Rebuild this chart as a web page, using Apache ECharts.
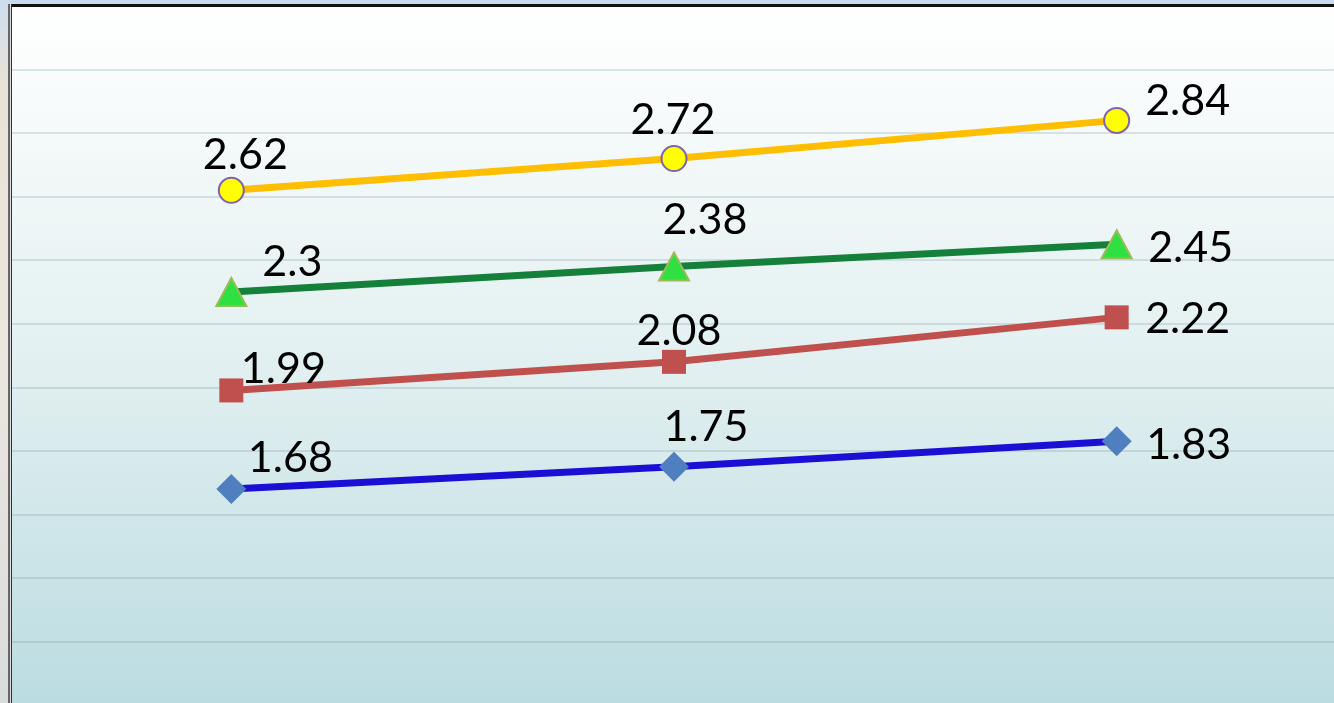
<!DOCTYPE html>
<html>
<head>
<meta charset="utf-8">
<script src="https://cdn.jsdelivr.net/npm/echarts@6/dist/echarts.min.js"></script>
<style>
  html, body { margin: 0; padding: 0; background: #fff; }
  #chart { width: 1334px; height: 703px; }
</style>
</head>
<body>
<div id="chart"></div>
<script>
const categories = ['A', 'B', 'C'];
const seriesBlue = [1.68, 1.75, 1.83];
const seriesRed = [1.99, 2.08, 2.22];
const seriesGreen = [2.3, 2.38, 2.45];
const seriesYellow = [2.62, 2.72, 2.84];

// label offsets per point (dx, dy from the marker centre)
const offBlue = [[59, -31], [32, -40], [72, 4]];
const offRed = [[52, -21], [5, -31], [71, 2]];
const offGreen = [[61, -30], [31, -46], [74, 4]];
const offYellow = [[14, -35], [-1, -38], [71, -19]];

const chart = echarts.init(document.getElementById('chart'));

function withLabels(values, offsets){
  return values.map((v, i) => ({
    value: v,
    label: { offset: offsets[i] }
  }));
}

function lineSeries(name, values, offsets, lineColor, symbol, size, fill, border){
  return {
    name,
    type: 'line',
    data: withLabels(values, offsets),
    symbol,
    symbolSize: size,
    showAllSymbol: true,
    lineStyle: { color: lineColor, width: 7 },
    itemStyle: { color: fill, borderColor: border, borderWidth: border ? 2 : 0 },
    label: {
      show: true,
      position: 'inside',
      align: 'center',
      verticalAlign: 'middle',
      color: '#000',
      fontFamily: 'Lato, "Open Sans", sans-serif',
      fontSize: 43,
      formatter: p => String(p.value)
    },
    emphasis: { disabled: true },
    z: 3
  };
}

chart.setOption({
  animation: false,
  backgroundColor: '#ffffff',
  graphic: [
    { type: 'rect', left: 0, top: 0, shape: { width: 1334, height: 5 }, style: { fill: '#c9d9f2' }, z: 10 },
    { type: 'rect', left: 0, top: 0, shape: { width: 9, height: 703 },
      style: { fill: new echarts.graphic.LinearGradient(0, 0, 0, 1, [
        { offset: 0, color: '#cdddf0' }, { offset: 0.12, color: '#e9e2d6' },
        { offset: 0.5, color: '#ebe6df' }, { offset: 1, color: '#dadcdc' }]) }, z: 10 },
    { type: 'rect', left: 9, top: 4, shape: { width: 1325, height: 3 }, style: { fill: '#111' }, z: 11 },
    { type: 'rect', left: 8, top: 4, shape: { width: 2, height: 699 }, style: { fill: '#666' }, z: 11 },
    { type: 'rect', left: 10, top: 4, shape: { width: 1, height: 699 }, style: { fill: '#ddd' }, z: 11 },
    { type: 'rect', left: 11, top: 4, shape: { width: 1, height: 699 }, style: { fill: '#333' }, z: 11 }
  ],
  grid: {
    left: 10, top: 6, width: 1328, height: 699,
    outerBoundsMode: 'none',
    show: true,
    borderWidth: 0,
    backgroundColor: new echarts.graphic.LinearGradient(0, 0, 0, 1, [
      { offset: 0, color: '#ffffff' },
      { offset: 0.5, color: '#e3f0f1' },
      { offset: 1, color: '#bbdce1' }
    ])
  },
  xAxis: {
    type: 'category',
    data: categories,
    boundaryGap: true,
    axisLine: { show: false },
    axisTick: { show: false },
    axisLabel: { show: false },
    splitLine: { show: false }
  },
  yAxis: {
    type: 'value',
    min: 1.0,
    max: 3.2,
    interval: 0.2,
    axisLine: { show: false },
    axisTick: { show: false },
    axisLabel: { show: false },
    splitLine: { show: true, lineStyle: { color: 'rgba(110,140,145,0.22)', width: 2 } }
  },
  series: [
    lineSeries('blue', seriesBlue, offBlue, '#1a0fd4', 'diamond', [30, 30], '#4f7fbf', null),
    lineSeries('red', seriesRed, offRed, '#c0504d', 'rect', [24, 24], '#c0504d', null),
    lineSeries('green', seriesGreen, offGreen, '#15803a', 'triangle', [30, 28], '#2ee040', '#9bbb59'),
    lineSeries('yellow', seriesYellow, offYellow, '#ffbf00', 'circle', [25, 25], '#ffff00', '#7f63b0')
  ]
});
</script>
</body>
</html>
